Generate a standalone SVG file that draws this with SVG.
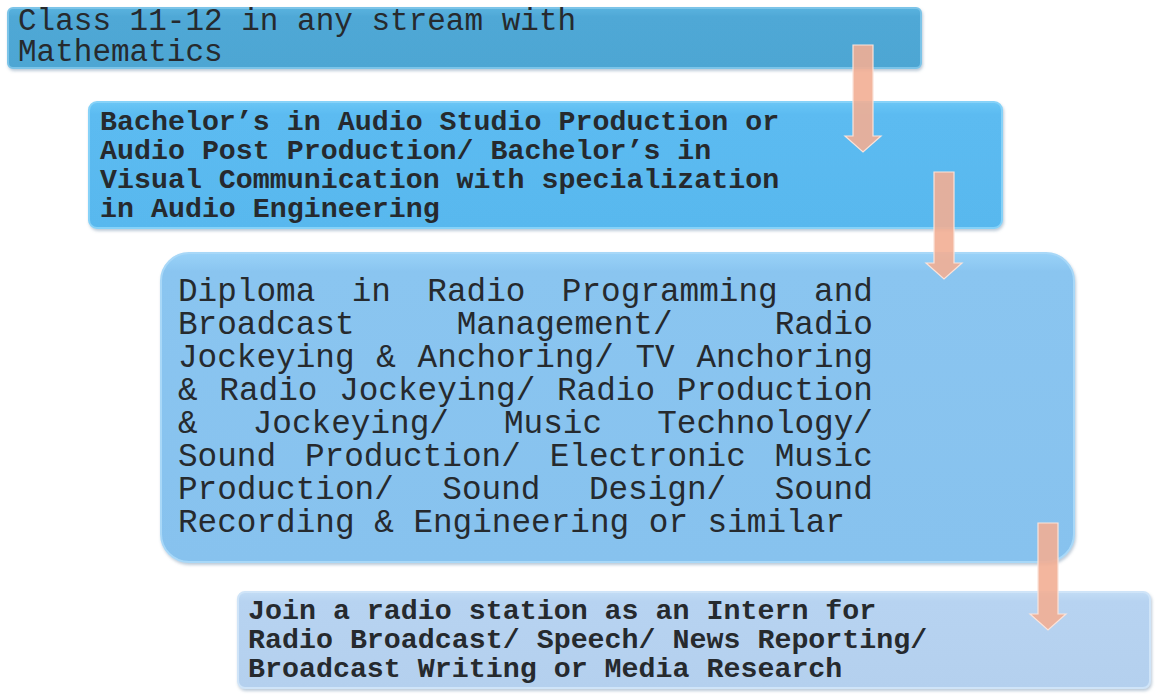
<svg xmlns="http://www.w3.org/2000/svg" width="1165" height="699" viewBox="0 0 1165 699">
<style>
  .t { font-family: "Liberation Mono", "Courier New", monospace; fill: #262a2e; }
  .b { font-weight: bold; font-size: 28.3px; }
  .r1 { font-size: 31px; }
  .r3 { font-size: 32.7px; }
  .box { stroke-width: 2; }
  .arrow { fill: #f2ae94; fill-opacity: 0.9; stroke: #fbe3da; stroke-width: 1.2; }
</style>
<defs>
  <filter id="sh" x="-5%" y="-10%" width="110%" height="125%">
    <feDropShadow dx="1" dy="2" stdDeviation="1.5" flood-color="#6a8aa8" flood-opacity="0.45"/>
  </filter>
  <linearGradient id="g1" x1="0" y1="0" x2="0" y2="1">
    <stop offset="0" stop-color="#59b3df"/><stop offset="0.15" stop-color="#4fa8d6"/><stop offset="1" stop-color="#4ea6d3"/>
  </linearGradient>
  <linearGradient id="g2" x1="0" y1="0" x2="0" y2="1">
    <stop offset="0" stop-color="#6ac6f6"/><stop offset="0.1" stop-color="#5bbbf1"/><stop offset="1" stop-color="#59b8ee"/>
  </linearGradient>
  <linearGradient id="g3" x1="0" y1="0" x2="0" y2="1">
    <stop offset="0" stop-color="#99d2f8"/><stop offset="0.06" stop-color="#8ac5f0"/><stop offset="1" stop-color="#87c2ee"/>
  </linearGradient>
  <linearGradient id="g4" x1="0" y1="0" x2="0" y2="1">
    <stop offset="0" stop-color="#c2dcf5"/><stop offset="0.1" stop-color="#b7d3f1"/><stop offset="1" stop-color="#b4d0ee"/>
  </linearGradient>
</defs>

<g id="node1">
  <rect class="box" x="8" y="8" width="913" height="60" rx="5" fill="url(#g1)" stroke="#7cc4e8" filter="url(#sh)"/>
  <text class="t r1" x="18" y="30">Class 11-12 in any stream with</text>
  <text class="t r1" x="18" y="61">Mathematics</text>
</g>

<g id="node2">
  <rect class="box" x="89" y="102" width="913" height="126" rx="8" fill="url(#g2)" stroke="#86d2f8" filter="url(#sh)"/>
  <text class="t b" x="100" y="130">Bachelor’s in Audio Studio Production or</text>
  <text class="t b" x="100" y="159">Audio Post Production/ Bachelor’s in</text>
  <text class="t b" x="100" y="188">Visual Communication with specialization</text>
  <text class="t b" x="100" y="217">in Audio Engineering</text>
</g>

<g id="node3">
  <rect class="box" x="161" y="253" width="913" height="309" rx="28" fill="url(#g3)" stroke="#a8d8f8" filter="url(#sh)"/>
  <text class="t r3" x="178" y="301" word-spacing="16.8">Diploma in Radio Programming and</text>
  <text class="t r3" x="178" y="334" word-spacing="82.6">Broadcast Management/ Radio</text>
  <text class="t r3" x="178" y="367" word-spacing="2.1">Jockeying &amp; Anchoring/ TV Anchoring</text>
  <text class="t r3" x="178" y="400" word-spacing="2.1">&amp; Radio Jockeying/ Radio Production</text>
  <text class="t r3" x="178" y="433" word-spacing="35.5">&amp; Jockeying/ Music Technology/</text>
  <text class="t r3" x="178" y="466" word-spacing="9.3">Sound Production/ Electronic Music</text>
  <text class="t r3" x="178" y="499" word-spacing="28.9">Production/ Sound Design/ Sound</text>
  <text class="t r3" x="178" y="532">Recording &amp; Engineering or similar</text>
</g>

<g id="node4">
  <rect class="box" x="238" y="592" width="912" height="96" rx="7" fill="url(#g4)" stroke="#cfe4f8" filter="url(#sh)"/>
  <text class="t b" x="248" y="619">Join a radio station as an Intern for</text>
  <text class="t b" x="248" y="648">Radio Broadcast/ Speech/ News Reporting/</text>
  <text class="t b" x="248" y="677">Broadcast Writing or Media Research</text>
</g>

<g id="connectors">
  <path class="arrow" d="M853,45 H873 V136 H881 L863,152 L845,136 H853 Z"/>
  <path class="arrow" d="M934,172 H954 V263 H962 L944,279 L926,263 H934 Z"/>
  <path class="arrow" d="M1038,523 H1058 V614 H1066 L1048,630 L1030,614 H1038 Z"/>
</g>
</svg>
